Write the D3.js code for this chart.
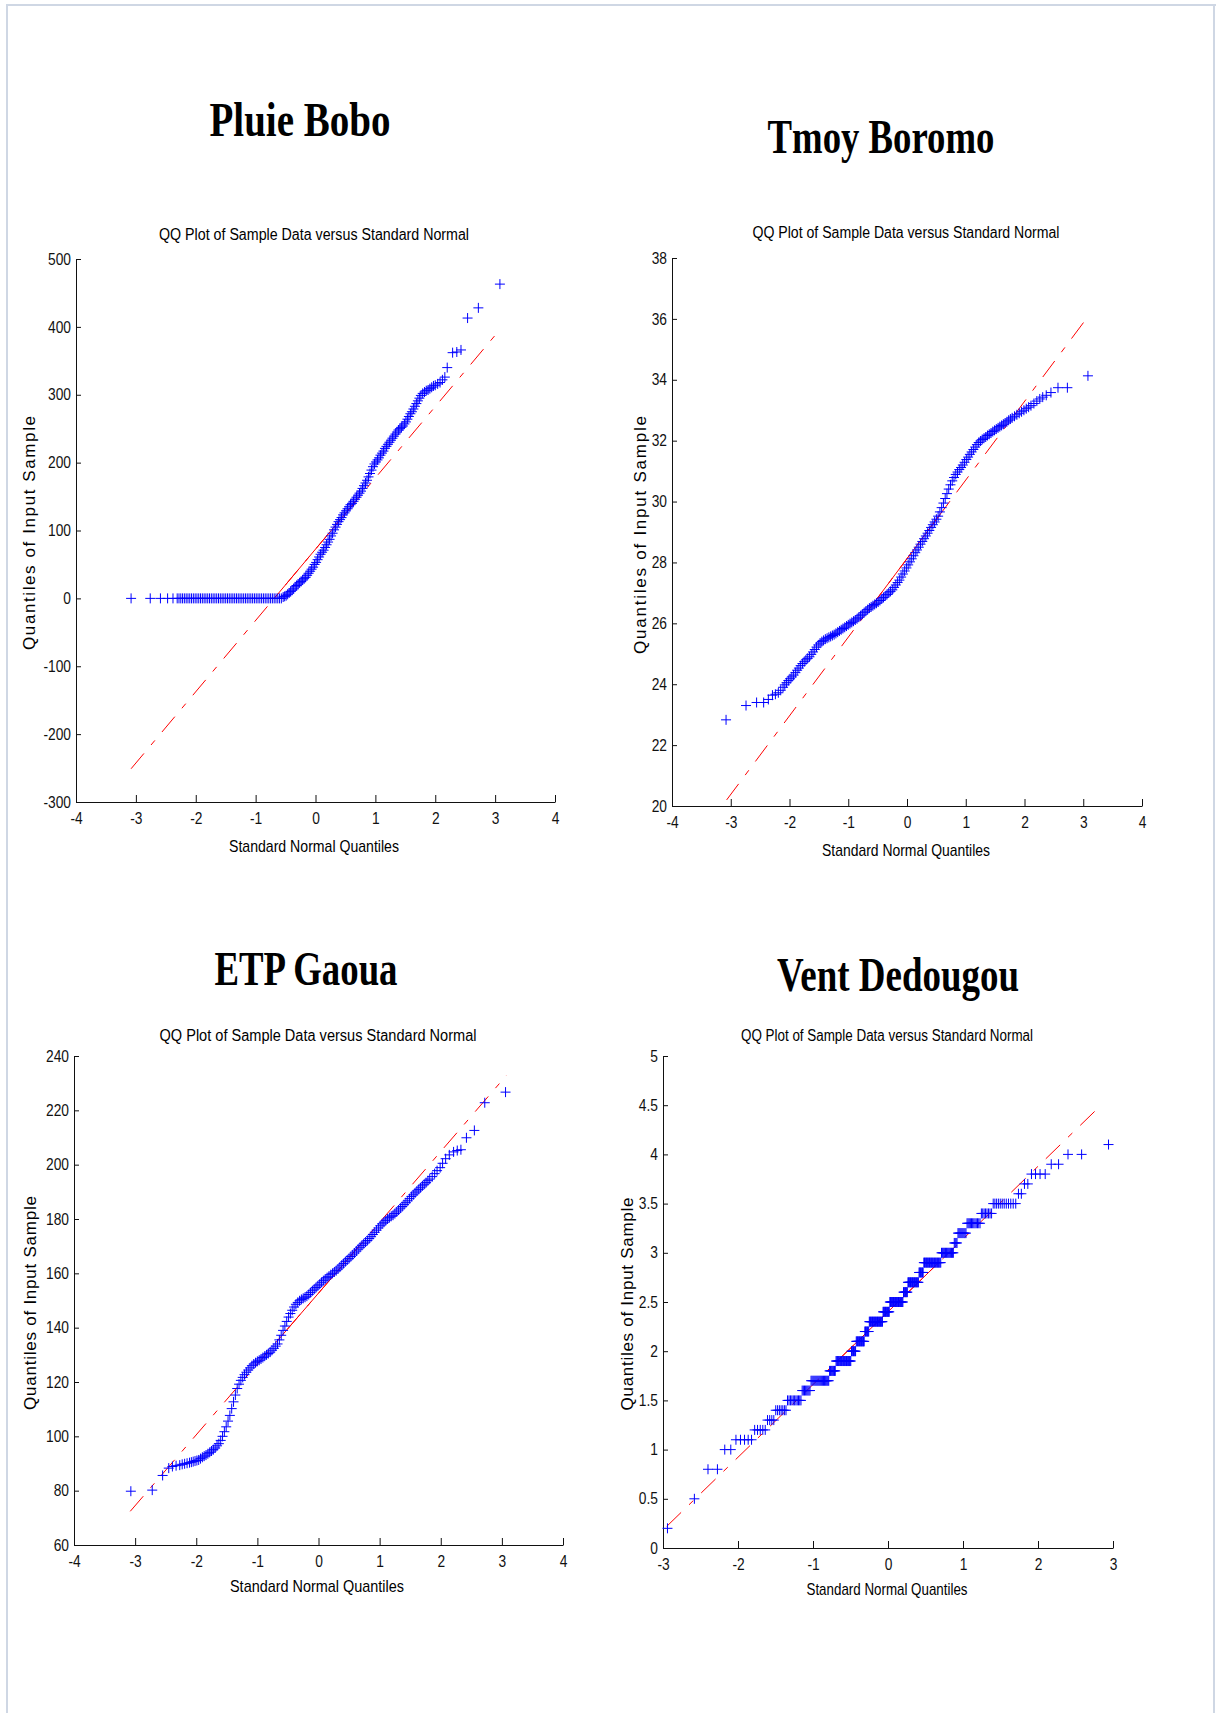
<!DOCTYPE html>
<html>
<head>
<meta charset="utf-8">
<script src="https://cdn.jsdelivr.net/npm/d3@7/dist/d3.min.js"></script>
<style>
  body { margin: 0; background: #fff; }
  svg { display: block; font-family: "Liberation Sans", Arial, sans-serif; }
</style>
</head>
<body>
<svg id="page" width="1216" height="1713"></svg>
<script>
// sample quantiles: [standard normal quantile, sample value]
// Pluie Bobo: a long run of dry days (0 mm), then the rainy part
var boboZeroZ = [-3.08,-2.76,-2.59,-2.47,-2.38,-2.31,-2.28,-2.25,-2.22,-2.19,-2.16,-2.13,-2.10,-2.07,-2.04,
  -2.01,-1.98,-1.95,-1.92,-1.89,-1.86,-1.83,-1.80,-1.77,-1.74,-1.71,-1.68,-1.65,-1.62,-1.59,-1.56,-1.53,
  -1.50,-1.47,-1.44,-1.41,-1.38,-1.35,-1.32,-1.29,-1.26,-1.23,-1.20,-1.17,-1.14,-1.11,-1.08,-1.05,-1.02,
  -0.99,-0.96,-0.93,-0.90,-0.87,-0.84,-0.81,-0.78,-0.75,-0.72,-0.69,-0.66,-0.63,-0.60,-0.57];
var boboPts = [
  [-0.540,2],[-0.515,3],[-0.490,4],[-0.465,6],[-0.440,8],[-0.415,10],[-0.390,12],[-0.365,14],[-0.340,17],
  [-0.315,19],[-0.290,21],[-0.265,23],[-0.240,25],[-0.215,27],[-0.190,29],[-0.165,31],[-0.140,34],[-0.115,37],
  [-0.090,40],[-0.065,43],[-0.040,46],[-0.015,50],[0.010,53],[0.035,57],[0.060,61],[0.085,65],[0.110,68],
  [0.135,71],[0.160,75],[0.185,79],[0.210,83],[0.235,87],[0.260,92],[0.285,96],[0.310,101],[0.335,105],
  [0.360,109],[0.385,113],[0.410,116],[0.435,119],[0.460,123],[0.485,126],[0.510,129],[0.535,132],[0.560,135],
  [0.585,138],[0.610,140],[0.635,143],[0.660,146],[0.685,149],[0.710,152],[0.735,155],[0.760,158],[0.785,162],
  [0.810,166],[0.835,170],[0.860,174],[0.885,179],[0.910,184],[0.935,189],[0.960,194],[0.985,198],[1.010,201],
  [1.035,204],[1.060,207],[1.085,211],[1.110,214],[1.135,217],[1.160,221],[1.185,224],[1.210,227],[1.235,230],
  [1.260,233],[1.285,236],[1.310,239],[1.335,242],[1.360,245],[1.385,248],[1.410,250],[1.435,252],[1.460,254],
  [1.485,257],[1.510,260],[1.535,264],[1.560,268],[1.585,272],[1.610,275],[1.635,279],[1.660,283],[1.685,287],
  [1.710,291],[1.735,295],[1.760,299],[1.790,302],[1.820,304],[1.850,306],[1.880,307],[1.910,309],[1.940,311],
  [1.970,313],[2.000,314],[2.040,316],[2.080,318],[2.120,322],[2.160,326],[2.200,340],[2.290,362],[2.360,363],
  [2.430,366],[2.540,413],[2.720,428],[3.080,463]
];

var tmoyPts = [
  [-3.08,22.83],[-2.74,23.3],[-2.56,23.4],[-2.44,23.4],[-2.36,23.5],[-2.29,23.64],[-2.24,23.67],[-2.19,23.72],
  [-2.15,23.8],[-2.11,23.9],[-2.08,23.98],[-2.05,24.05],[-2.02,24.12],[-1.99,24.18],[-1.96,24.24],[-1.93,24.3],
  [-1.90,24.38],[-1.87,24.46],[-1.84,24.53],[-1.81,24.61],[-1.78,24.68],[-1.75,24.74],[-1.72,24.8],[-1.69,24.85],
  [-1.66,24.9],[-1.63,24.98],[-1.60,25.06],[-1.57,25.14],[-1.54,25.22],[-1.51,25.29],[-1.48,25.35],[-1.45,25.4],
  [-1.42,25.44],[-1.39,25.48],[-1.36,25.51],[-1.33,25.54],[-1.30,25.57],[-1.27,25.6],[-1.24,25.63],[-1.21,25.67],
  [-1.18,25.71],[-1.15,25.75],[-1.12,25.79],[-1.09,25.83],[-1.06,25.87],[-1.03,25.91],[-1.00,25.95],[-0.97,25.99],
  [-0.94,26.03],[-0.91,26.07],[-0.88,26.11],[-0.85,26.15],[-0.82,26.2],[-0.79,26.25],[-0.76,26.3],[-0.73,26.35],
  [-0.70,26.4],[-0.67,26.45],[-0.64,26.5],[-0.61,26.54],[-0.58,26.58],[-0.55,26.62],[-0.52,26.66],[-0.49,26.7],
  [-0.46,26.75],[-0.43,26.8],[-0.40,26.85],[-0.37,26.9],[-0.34,26.95],[-0.31,27.0],[-0.28,27.05],[-0.25,27.1],
  [-0.22,27.18],[-0.19,27.26],[-0.16,27.34],[-0.13,27.42],[-0.10,27.52],[-0.07,27.62],[-0.04,27.72],[-0.01,27.82],
  [0.02,27.92],[0.05,28.02],[0.08,28.12],[0.11,28.22],[0.14,28.32],[0.17,28.41],[0.20,28.5],[0.23,28.6],
  [0.26,28.69],[0.29,28.78],[0.32,28.87],[0.35,28.96],[0.38,29.05],[0.41,29.15],[0.44,29.24],[0.47,29.33],
  [0.50,29.42],[0.53,29.52],[0.56,29.66],[0.59,29.8],[0.62,29.95],[0.65,30.1],[0.68,30.26],[0.71,30.41],
  [0.74,30.55],[0.77,30.68],[0.80,30.79],[0.83,30.89],[0.86,30.97],[0.89,31.05],[0.92,31.12],[0.95,31.2],
  [0.98,31.29],[1.01,31.38],[1.04,31.46],[1.07,31.55],[1.10,31.63],[1.13,31.71],[1.16,31.79],[1.19,31.87],
  [1.22,31.94],[1.25,31.99],[1.28,32.04],[1.31,32.08],[1.34,32.12],[1.37,32.17],[1.40,32.21],[1.43,32.25],
  [1.46,32.3],[1.49,32.34],[1.52,32.38],[1.55,32.42],[1.58,32.46],[1.61,32.5],[1.64,32.54],[1.67,32.58],
  [1.70,32.62],[1.73,32.67],[1.76,32.71],[1.79,32.75],[1.83,32.8],[1.87,32.85],[1.91,32.9],[1.95,32.95],
  [1.99,33.0],[2.03,33.05],[2.07,33.1],[2.11,33.15],[2.16,33.22],[2.21,33.3],[2.26,33.37],[2.31,33.43],
  [2.37,33.49],[2.45,33.58],[2.57,33.74],[2.73,33.74],[3.08,34.13]
];

var etpPts = [
  [-3.07,79.8],[-2.72,80.2],[-2.55,85.6],[-2.45,88.3],[-2.39,88.9],[-2.33,89.2],[-2.27,89.4],[-2.23,89.7],
  [-2.19,89.9],[-2.15,90.1],[-2.11,90.3],[-2.08,90.5],[-2.05,90.7],[-2.02,90.9],[-1.99,91.1],[-1.96,91.3],
  [-1.93,91.8],[-1.90,92.3],[-1.87,92.7],[-1.84,93.1],[-1.81,93.6],[-1.78,94.1],[-1.75,94.6],[-1.72,95.1],
  [-1.69,95.7],[-1.66,96.5],[-1.63,97.3],[-1.60,98.5],[-1.57,100],[-1.54,101.7],[-1.51,103.5],[-1.48,105.6],
  [-1.45,107.7],[-1.42,110.2],[-1.39,112.7],[-1.36,115.2],[-1.33,117.6],[-1.30,119.2],[-1.27,120.6],[-1.24,121.7],
  [-1.21,122.7],[-1.18,123.6],[-1.15,124.4],[-1.12,125.2],[-1.09,126],[-1.06,126.6],[-1.03,127.1],[-1.00,127.6],
  [-0.97,128],[-0.94,128.5],[-0.91,129],[-0.88,129.5],[-0.85,130],[-0.82,130.5],[-0.79,131],[-0.76,131.7],
  [-0.73,132.4],[-0.70,133.2],[-0.67,134],[-0.64,135.5],[-0.61,137.2],[-0.58,139],[-0.55,140.6],[-0.52,142.3],
  [-0.49,143.9],[-0.46,145.2],[-0.43,146.4],[-0.40,147.6],[-0.37,148.6],[-0.34,149.3],[-0.31,149.9],[-0.28,150.4],
  [-0.25,150.8],[-0.22,151.2],[-0.19,151.6],[-0.16,152.2],[-0.13,152.9],[-0.10,153.6],[-0.07,154.2],[-0.04,154.8],
  [-0.01,155.4],[0.02,156],[0.05,156.7],[0.08,157.3],[0.11,157.9],[0.14,158.4],[0.17,158.9],[0.20,159.5],
  [0.23,160],[0.26,160.5],[0.29,161],[0.32,161.6],[0.35,162.3],[0.38,163],[0.41,163.6],[0.44,164.3],
  [0.47,164.9],[0.50,165.5],[0.53,166.2],[0.56,166.8],[0.59,167.5],[0.62,168.2],[0.65,168.9],[0.68,169.6],
  [0.71,170.3],[0.74,170.9],[0.77,171.5],[0.80,172.1],[0.83,172.8],[0.86,173.5],[0.89,174.3],[0.92,175.1],
  [0.95,175.9],[0.98,176.7],[1.01,177.5],[1.04,178.2],[1.07,178.8],[1.10,179.4],[1.13,180],[1.16,180.5],
  [1.19,181],[1.22,181.4],[1.25,182],[1.28,182.6],[1.31,183.3],[1.34,184],[1.37,184.6],[1.40,185.3],
  [1.43,186],[1.46,186.7],[1.49,187.5],[1.52,188.3],[1.55,188.9],[1.58,189.6],[1.61,190.3],[1.64,190.9],
  [1.67,191.5],[1.70,192.2],[1.73,192.8],[1.76,193.4],[1.79,194.1],[1.82,194.7],[1.86,195.6],[1.90,196.7],
  [1.94,197.8],[1.99,198.9],[2.03,200.5],[2.08,202.2],[2.14,203.6],[2.21,204.7],[2.27,205.2],[2.33,205.5],
  [2.42,209.9],[2.55,212.6],[2.72,222.8],[3.06,226.7]
];

// Vent Dedougou is recorded to 0.1 m/s: sample levels and how many values sit on each
var ventLevels = [0.2, 0.5, 0.8, 1.0, 1.1, 1.2, 1.3, 1.4, 1.5, 1.6, 1.7, 1.8, 1.9, 2.0, 2.1, 2.2, 2.3, 2.4,
                  2.5, 2.6, 2.7, 2.8, 2.9, 3.0, 3.1, 3.2, 3.3, 3.4, 3.5, 3.6, 3.7, 3.8, 3.9, 4.0, 4.1];
var ventCounts = [1, 1, 2, 2, 5, 5, 4, 7, 11, 8, 20, 8, 21, 7, 13, 7, 22, 11,
                  22, 7, 17, 7, 24, 15, 4, 9, 12, 8, 12, 2, 2, 4, 2, 2, 1];

// red fitted lines: [x1, y1, x2, y2]
var boboLine = [-3.08, -251, 3.08, 396];
var tmoyLine = [-3.07, 20.2, 3.07, 36.05];
var etpLine  = [-3.08, 72.4, 3.08, 233];
var ventLine = [-2.95, 0.22, 2.80, 4.47];

var xTicks4 = [-4, -3, -2, -1, 0, 1, 2, 3, 4];
var xTicks3 = [-3, -2, -1, 0, 1, 2, 3];
var boboTicks = [-300, -200, -100, 0, 100, 200, 300, 400, 500];
var tmoyTicks = [20, 22, 24, 26, 28, 30, 32, 34, 36, 38];
var etpTicks  = [60, 80, 100, 120, 140, 160, 180, 200, 220, 240];
var ventTicks = [0, 0.5, 1, 1.5, 2, 2.5, 3, 3.5, 4, 4.5, 5];

var subTitle = "QQ Plot of Sample Data versus Standard Normal";
var xLab = "Standard Normal Quantiles";
var yLab = "Quantiles of Input Sample";

// inverse normal cdf (Acklam), to place ranked values like qqplot does
function probit( p ) {
    var a = [-39.69683028665376, 220.9460984245205, -275.9285104469687, 138.3577518672690, -30.66479806614716, 2.506628277459239],
        b = [-54.47609879822406, 161.5858368580409, -155.6989798598866, 66.80131188771972, -13.28068155288572],
        c = [-0.007784894002430293, -0.3223964580411365, -2.400758277161838, -2.549732539343734, 4.374664141464968, 2.938163982698783],
        d = [0.007784695709041462, 0.3224671290700398, 2.445134137142996, 3.754408661907416];
    var q, r;
    if ( p < 0.02425 ) {
        q = Math.sqrt( -2 * Math.log(p) );
        return (((((c[0]*q+c[1])*q+c[2])*q+c[3])*q+c[4])*q+c[5]) / ((((d[0]*q+d[1])*q+d[2])*q+d[3])*q+1);
    }
    if ( p > 1 - 0.02425 ) return -probit( 1 - p );
    q = p - 0.5; r = q * q;
    return (((((a[0]*r+a[1])*r+a[2])*r+a[3])*r+a[4])*r+a[5])*q / (((((b[0]*r+b[1])*r+b[2])*r+b[3])*r+b[4])*r+1);
}

function ventPoints() {
    var vals = d3.merge( ventLevels.map( (v, i) => d3.range( ventCounts[i] ).map( () => v ) ) );
    var n = vals.length;
    return vals.map( (v, i) => [probit( (i + 0.5) / n ), v] );
}

var panels = [
  { name: "Pluie Bobo", pts: boboZeroZ.map( z => [z, 0] ).concat( boboPts ), line: boboLine,
    xDom: [-4,4], yDom: [-300,500], xT: xTicks4, yT: boboTicks, box: [76,259,555,802],
    ttl: [300,136,181], sub: [314,240,310], xl: [314,852,170], yl: [35,533,234] },
  { name: "Tmoy Boromo", pts: tmoyPts, line: tmoyLine, xDom: [-4,4], yDom: [20,38],
    xT: xTicks4, yT: tmoyTicks, box: [672,258,1142,806],
    ttl: [881,153,227], sub: [906,238,307], xl: [906,856,168], yl: [646,535,238] },
  { name: "ETP Gaoua", pts: etpPts, line: etpLine, xDom: [-4,4], yDom: [60,240],
    xT: xTicks4, yT: etpTicks, box: [74,1056,563,1545],
    ttl: [306,985,183], sub: [318,1041,317], xl: [317,1592,174], yl: [36,1303,214] },
  { name: "Vent Dedougou", pts: ventPoints(), line: ventLine, xDom: [-3,3], yDom: [0,5],
    xT: xTicks3, yT: ventTicks, box: [663,1056,1113,1548],
    ttl: [898,991,242], sub: [887,1041,292], xl: [887,1595,161], yl: [633,1304,213] }
];

window.addEventListener( "load", makePage );
function makePage() {
    var svg = d3.select( "#page" );

    // light frame of the page
    var fr = svg.append( "g" ).attr( "stroke", "#cfd7e4" ).attr( "stroke-width", 2 );
    fr.append( "line" ).attr( "x1", 6 ).attr( "y1", 5 ).attr( "x2", 1216 ).attr( "y2", 5 );
    fr.append( "line" ).attr( "x1", 7 ).attr( "y1", 4 ).attr( "x2", 7 ).attr( "y2", 1713 );
    fr.append( "line" ).attr( "x1", 1214 ).attr( "y1", 4 ).attr( "x2", 1214 ).attr( "y2", 1713 );

    panels.forEach( p => makePanel( svg, p ) );
}

function squeeze( sel, w, adj ) {
    sel.attr( "textLength", w ).attr( "lengthAdjust", adj || "spacingAndGlyphs" );
}

function makePanel( svg, p ) {
    var x = d3.scaleLinear().domain( p.xDom ).range( [p.box[0], p.box[2]] );
    var y = d3.scaleLinear().domain( p.yDom ).range( [p.box[3], p.box[1]] );
    var g = svg.append( "g" );

    // big station title
    g.append( "text" ).attr( "x", p.ttl[0] ).attr( "y", p.ttl[1] )
        .attr( "text-anchor", "middle" ).attr( "font-size", 49 ).attr( "font-weight", "bold" )
        .attr( "font-family", "'Liberation Serif', 'Times New Roman', serif" )
        .text( p.name ).call( squeeze, p.ttl[2] );

    g.append( "text" ).attr( "x", p.sub[0] ).attr( "y", p.sub[1] )
        .attr( "text-anchor", "middle" ).attr( "font-size", 16 )
        .text( subTitle ).call( squeeze, p.sub[2] );

    g.append( "text" ).attr( "x", p.xl[0] ).attr( "y", p.xl[1] )
        .attr( "text-anchor", "middle" ).attr( "font-size", 17 )
        .text( xLab ).call( squeeze, p.xl[2] );

    g.append( "text" ).attr( "text-anchor", "middle" ).attr( "font-size", 17 )
        .attr( "transform", "translate(" + p.yl[0] + "," + p.yl[1] + ") rotate(-90)" )
        .text( yLab ).call( squeeze, p.yl[2], "spacing" );

    // axes, ticks pointing inwards like matlab
    var ax = g.append( "g" ).attr( "transform", "translate(0," + p.box[3] + ")" )
        .call( d3.axisBottom( x ).tickValues( p.xT ).tickFormat( d => String(d) )
               .tickSizeInner( -7 ).tickSizeOuter( 0 ).tickPadding( 11 ) );
    var ay = g.append( "g" ).attr( "transform", "translate(" + p.box[0] + ",0)" )
        .call( d3.axisLeft( y ).tickValues( p.yT ).tickFormat( d => String(d) )
               .tickSizeInner( -5 ).tickSizeOuter( 0 ).tickPadding( 5 ) );
    [ax, ay].forEach( a => {
        a.attr( "font-family", null ).attr( "font-size", 16 ).attr( "color", "#111" );
        a.selectAll( "text" ).each( function() {
            var w = this.getComputedTextLength();
            d3.select( this ).call( squeeze, w * 0.86 );
        } );
    } );

    // reference line: dash-dot over the whole range, solid between the quartiles
    var L = p.line;
    var at = z => L[1] + (L[3] - L[1]) * (z - L[0]) / (L[2] - L[0]);
    g.append( "line" ).attr( "stroke", "#ff0000" ).attr( "stroke-dasharray", "20,11,6,11" )
        .attr( "x1", x(L[0]) ).attr( "y1", y(L[1]) ).attr( "x2", x(L[2]) ).attr( "y2", y(L[3]) );
    g.append( "line" ).attr( "stroke", "#ff0000" )
        .attr( "x1", x(-0.6745) ).attr( "y1", y(at(-0.6745)) )
        .attr( "x2", x(0.6745) ).attr( "y2", y(at(0.6745)) );

    // sample points as blue plus signs
    g.selectAll( "path.pt" ).data( p.pts ).enter()
        .append( "path" ).attr( "class", "pt" )
        .attr( "d", d => "M" + (x(d[0]) - 5) + "," + y(d[1]) + "h10M" + x(d[0]) + "," + (y(d[1]) - 5) + "v10" )
        .attr( "stroke", "#0000ff" ).attr( "fill", "none" );
}
</script>
</body>
</html>
